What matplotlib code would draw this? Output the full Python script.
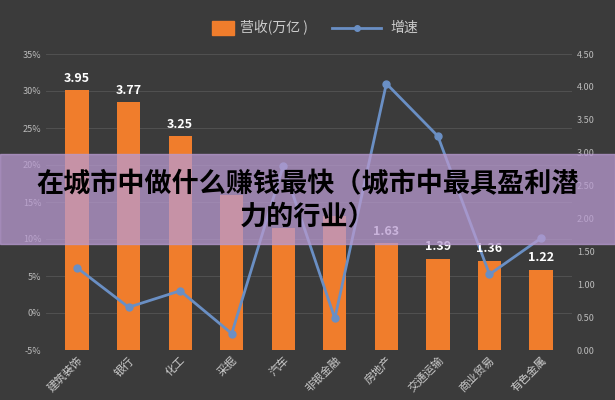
import matplotlib.pyplot as plt
import numpy as np
from matplotlib.patches import Rectangle
from matplotlib.lines import Line2D

plt.rcParams['font.family'] = ['Noto Sans CJK SC', 'DejaVu Sans']

categories = ['建筑装饰', '银行', '化工', '采掘', '汽车', '非银金融', '房地产', '交通运输', '商业贸易', '有色金属']
revenue = [3.95, 3.77, 3.25, 2.35, 1.85, 2.03, 1.63, 1.39, 1.36, 1.22]
growth = [1.25, 0.65, 0.90, 0.25, 2.80, 0.48, 4.05, 3.25, 1.15, 1.70]
shown_labels = [True, True, True, False, False, False, True, True, True, True]
pct_ticks = list(range(-5, 36, 5))
right_ticks = list(np.arange(0, 4.51, 0.5))

bg = '#3b3b3b'
fig = plt.figure(figsize=(6.15, 4.0), dpi=100, facecolor=bg)
ax = fig.add_axes([0.075, 0.125, 0.855, 0.74], facecolor=bg)
ax.set_ylim(-5, 35)
ax.set_yticks(pct_ticks)
ax.set_yticklabels([f'{v}%' for v in pct_ticks], color='#bbbbbb', fontsize=6.5)
ax.grid(axis='y', color='#555555', lw=0.6, zorder=0)
ax.tick_params(length=0)
x = np.arange(len(categories))
ax.set_xlim(-0.6, 9.6)
ax.set_xticks(x)
ax.set_xticklabels(categories, rotation=45, ha='right', rotation_mode='anchor', color='#cccccc', fontsize=8)
for s in ax.spines.values():
    s.set_visible(False)

ax2 = ax.twinx()
ax2.set_ylim(0, 4.5)
ax2.bar(x, revenue, width=0.45, color='#f07d2c', zorder=2)
ax2.plot(x, growth, color='#6a8fc4', lw=2, marker='o', ms=5, zorder=3)
for i, v in enumerate(revenue):
    if shown_labels[i]:
        ax2.text(i, v + 0.08, f'{v:.2f}', ha='center', va='bottom', color='white', fontsize=9, fontweight='bold')
ax2.set_yticks(right_ticks)
ax2.set_yticklabels([f'{v:.2f}' for v in right_ticks], color='#bbbbbb', fontsize=6.5)
ax2.tick_params(length=0)
for s in ax2.spines.values():
    s.set_visible(False)

fig.patches.append(Rectangle((0.345, 0.912), 0.035, 0.035, transform=fig.transFigure, color='#f07d2c'))
fig.text(0.39, 0.93, '营收(万亿 )', color='#cccccc', fontsize=10, va='center')
fig.lines.append(Line2D([0.54, 0.62], [0.93, 0.93], transform=fig.transFigure, color='#6a8fc4', lw=2))
fig.lines.append(Line2D([0.58], [0.93], transform=fig.transFigure, color='#6a8fc4', marker='o', ms=4))
fig.text(0.635, 0.93, '增速', color='#cccccc', fontsize=10, va='center')

fig.patches.append(Rectangle((0, 0.39), 1, 0.225, transform=fig.transFigure, color='#b89ad0', alpha=0.75, zorder=5))
fig.text(0.5, 0.54, '在城市中做什么赚钱最快（城市中最具盈利潜', ha='center', va='center', fontsize=19.5, fontweight='bold', color='black', zorder=6)
fig.text(0.5, 0.46, '力的行业）', ha='center', va='center', fontsize=19.5, fontweight='bold', color='black', zorder=6)
fig.savefig('out.png', dpi=100, facecolor=bg)
